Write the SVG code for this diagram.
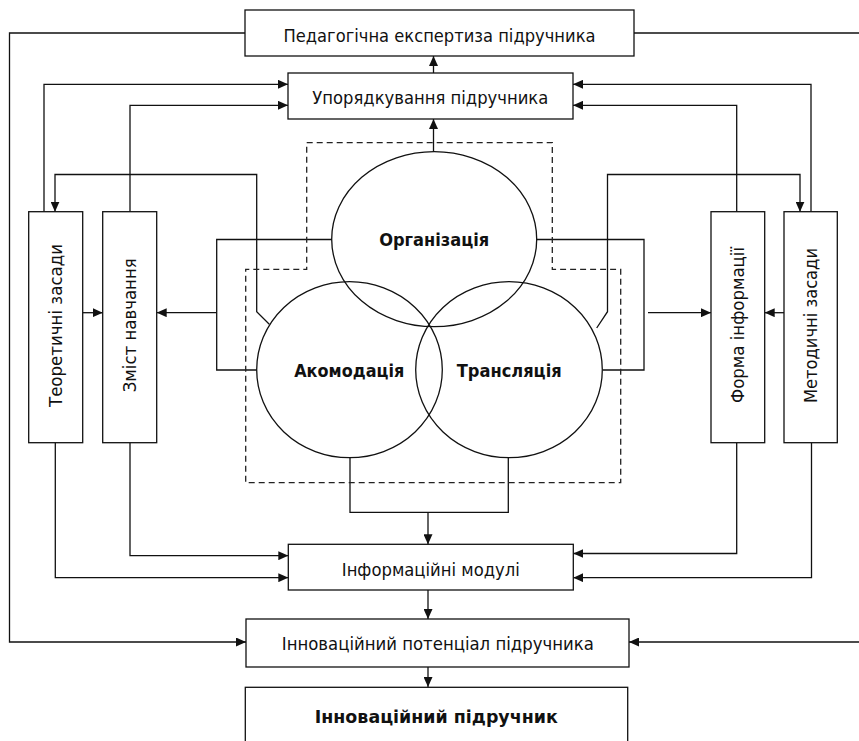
<svg xmlns="http://www.w3.org/2000/svg" width="859" height="741" viewBox="0 0 859 741">
<style>
.box{fill:#fff;stroke:#111;stroke-width:1.3}
.ell{fill:none;stroke:#111;stroke-width:1.3}
.ln{fill:none;stroke:#111;stroke-width:1.3}
.dash{fill:none;stroke:#222;stroke-width:1.3;stroke-dasharray:6,4}
.t{font-family:"DejaVu Sans",Tahoma,sans-serif;font-size:18px;fill:#111;text-anchor:middle}
.b{font-family:"DejaVu Sans",Tahoma,sans-serif;font-size:17.5px;font-weight:bold;fill:#111;text-anchor:middle}
</style>
<defs>
<marker id="ah" viewBox="0 0 10 9" refX="10" refY="4.5" markerWidth="10" markerHeight="9" markerUnits="userSpaceOnUse" orient="auto">
<path d="M0,0 L10,4.5 L0,9 z" fill="#111"/>
</marker>
</defs>
<rect width="859" height="741" fill="#fff"/>
<g id="connectors">
<path class="ln" d="M245,33 H9.5 V642 H246" marker-end="url(#ah)"/>
<path class="ln" d="M634,33 H859"/>
<path class="ln" d="M859,642 H629" marker-end="url(#ah)"/>
<path class="ln" d="M433.5,73 V56" marker-end="url(#ah)"/>
<path class="ln" d="M433.5,151.7 V119" marker-end="url(#ah)"/>
<path class="ln" d="M44,211.7 V84.3 H288" marker-end="url(#ah)"/>
<path class="ln" d="M130,211.7 V105.3 H288" marker-end="url(#ah)"/>
<path class="ln" d="M811,211.7 V84.3 H573" marker-end="url(#ah)"/>
<path class="ln" d="M736.7,211.7 V105.3 H573" marker-end="url(#ah)"/>
<path class="ln" d="M269.3,324.3 L256.7,311.7 V174.5 H55 V211.7" marker-end="url(#ah)"/>
<path class="ln" d="M596.7,328 L607.5,311.7 V174.5 H800 V211.7" marker-end="url(#ah)"/>
<path class="ln" d="M82.7,312.7 H102.7" marker-end="url(#ah)"/>
<path class="ln" d="M331.7,239.5 H216.7 V370 H256.7"/>
<path class="ln" d="M216.7,312.7 H156.7" marker-end="url(#ah)"/>
<path class="ln" d="M536.7,239.5 H644 V370 H603"/>
<path class="ln" d="M648,312.7 H711" marker-end="url(#ah)"/>
<path class="ln" d="M784,312.7 H764.7" marker-end="url(#ah)"/>
<path class="ln" d="M350,457.7 V512.3 H508.3 V457.7"/>
<path class="ln" d="M428,512.3 V544.3" marker-end="url(#ah)"/>
<path class="ln" d="M130,442.7 V555.7 H288.3" marker-end="url(#ah)"/>
<path class="ln" d="M55.3,442.7 V577.7 H288.3" marker-end="url(#ah)"/>
<path class="ln" d="M736.7,442.7 V553.5 H573.3" marker-end="url(#ah)"/>
<path class="ln" d="M811.5,442.7 V577.7 H573.3" marker-end="url(#ah)"/>
<path class="ln" d="M428,590 V619" marker-end="url(#ah)"/>
<path class="ln" d="M428,667 V687" marker-end="url(#ah)"/>
</g>
<g id="core">
<path class="dash" d="M306.7,142.7 H552.3 V269.3 H620.7 V482.7 H245.7 V269.3 H306.7 Z"/>
</g>
<g id="organizatsiia">
<ellipse class="ell" cx="434.2" cy="239.2" rx="102.5" ry="87.5"/>
<text class="b" x="434.2" y="245.5" textLength="110" lengthAdjust="spacingAndGlyphs">Організація</text>
</g>
<g id="akomodatsiia">
<ellipse class="ell" cx="349.5" cy="369.7" rx="92.8" ry="88"/>
<text class="b" x="349.2" y="376.5" textLength="110" lengthAdjust="spacingAndGlyphs">Акомодація</text>
</g>
<g id="transliatsiia">
<ellipse class="ell" cx="509" cy="369.7" rx="93.3" ry="88"/>
<text class="b" x="509.2" y="376.5" textLength="105" lengthAdjust="spacingAndGlyphs">Трансляція</text>
</g>
<g id="ekspertyza">
<rect class="box" x="245" y="10" width="389" height="46"/>
<text class="t" x="439.5" y="41.5" textLength="312" lengthAdjust="spacingAndGlyphs">Педагогічна експертиза підручника</text>
</g>
<g id="uporiadkuvannia">
<rect class="box" x="288" y="73" width="285" height="46"/>
<text class="t" x="430.3" y="103.5" textLength="236" lengthAdjust="spacingAndGlyphs">Упорядкування підручника</text>
</g>
<g id="teoretychni">
<rect class="box" x="28.7" y="211.7" width="54" height="231"/>
<text class="t" transform="translate(62,325.5) rotate(-90)" x="0" y="0" textLength="163" lengthAdjust="spacingAndGlyphs">Теоретичні засади</text>
</g>
<g id="zmist">
<rect class="box" x="102.7" y="211.7" width="54" height="231"/>
<text class="t" transform="translate(136.3,325.3) rotate(-90)" x="0" y="0" textLength="134" lengthAdjust="spacingAndGlyphs">Зміст навчання</text>
</g>
<g id="forma">
<rect class="box" x="711" y="211.7" width="53.7" height="231"/>
<text class="t" transform="translate(744.3,325) rotate(-90)" x="0" y="0" textLength="156" lengthAdjust="spacingAndGlyphs">Форма інформації</text>
</g>
<g id="metodychni">
<rect class="box" x="784" y="211.7" width="53.3" height="231"/>
<text class="t" transform="translate(817.3,325.5) rotate(-90)" x="0" y="0" textLength="155" lengthAdjust="spacingAndGlyphs">Методичні засади</text>
</g>
<g id="moduli">
<rect class="box" x="288.3" y="544.3" width="285" height="45.7"/>
<text class="t" x="430.8" y="575.5" textLength="178" lengthAdjust="spacingAndGlyphs">Інформаційні модулі</text>
</g>
<g id="potentsial">
<rect class="box" x="246" y="619" width="383" height="48"/>
<text class="t" x="437.8" y="649.5" textLength="312" lengthAdjust="spacingAndGlyphs">Інноваційний потенціал підручника</text>
</g>
<g id="pidruchnyk">
<rect class="box" x="245.3" y="687.3" width="382.4" height="70"/>
<text class="b" x="436.3" y="723" textLength="243" lengthAdjust="spacingAndGlyphs">Інноваційний підручник</text>
</g>
</svg>
